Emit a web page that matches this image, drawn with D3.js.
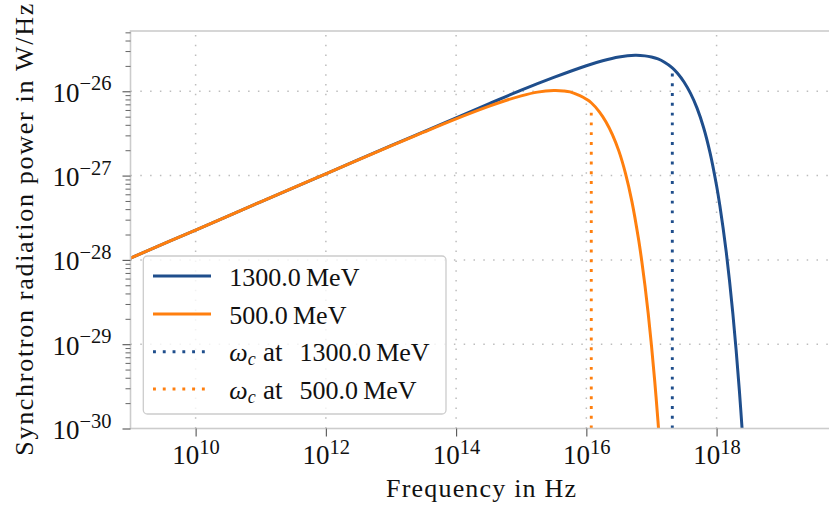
<!DOCTYPE html>
<html><head><meta charset="utf-8">
<script src="https://cdn.jsdelivr.net/npm/d3@7"></script>
<style>
body{margin:0;background:#fff}
svg{display:block}
text{font-family:"Liberation Serif","Times New Roman",serif;fill:#111}
</style>
</head><body>
<svg id="chart" width="829" height="508"></svg>
<script>
// ---- data (frequency in Hz, power in W/Hz) ----
const seriesLabels = ["1300.0\u2009MeV", "500.0\u2009MeV"];
const seriesColors = ["#1f4e8c", "#ff7f0e"];

const freqHigh = [1e9, 1e10, 1e11, 1e12, 1e13, 1e14, 3.162e14, 1e15, 3.162e15, 1e16, 1.778e16, 3.162e16,
  5.623e16, 7.943e16, 1e17, 1.259e17, 1.585e17, 2.089e17, 2.512e17, 3.162e17, 3.981e17, 5.012e17,
  6.310e17, 7.943e17, 1e18, 1.122e18, 1.259e18, 1.413e18, 1.585e18, 1.778e18, 1.995e18, 2.239e18, 2.512e18];
const powerHigh = [1.05e-28, 2.26e-28, 4.89e-28, 1.05e-27, 2.26e-27, 4.85e-27, 7.08e-27, 1.03e-26, 1.46e-26,
  2.01e-26, 2.30e-26, 2.55e-26, 2.67e-26, 2.63e-26, 2.55e-26, 2.42e-26, 2.21e-26, 1.90e-26, 1.64e-26,
  1.29e-26, 9.44e-27, 6.31e-27, 3.72e-27, 1.86e-27, 7.57e-28, 4.41e-28, 2.39e-28, 1.21e-28, 5.52e-29,
  2.30e-29, 8.55e-30, 2.81e-30, 8.02e-31];

const freqLow = [1e9, 1e10, 1e11, 1e12, 1e13, 3.162e13, 1e14, 3.162e14, 5.623e14, 1e15, 1.778e15, 3.162e15,
  4.467e15, 5.623e15, 7.943e15, 1e16, 1.189e16, 1.585e16, 1.995e16, 2.512e16, 3.162e16, 3.981e16,
  5.012e16, 6.310e16, 7.079e16, 7.943e16, 8.913e16, 1e17, 1.122e17, 1.259e17, 1.318e17];
const powerLow = [1.05e-28, 2.26e-28, 4.89e-28, 1.05e-27, 2.25e-27, 3.27e-27, 4.71e-27, 6.62e-27, 7.73e-27,
  8.83e-27, 9.77e-27, 1.02e-26, 1.01e-26, 9.84e-27, 8.87e-27, 8.05e-27, 7.31e-27, 5.71e-27, 4.35e-27,
  3.06e-27, 1.95e-27, 1.07e-27, 4.91e-28, 1.79e-28, 9.82e-29, 4.99e-29, 2.31e-29, 9.70e-30, 3.66e-30,
  1.22e-30, 7.53e-31];

const criticalEnergy = ["1300.0\u2009MeV", "500.0\u2009MeV"];
const criticalFreq = [2.09e17, 1.19e16];
const criticalPower = [1.88e-26, 6.64e-27];

const xTickValues = [1e10, 1e12, 1e14, 1e16, 1e18];
const xTickExps = ["10", "12", "14", "16", "18"];
const yTickValues = [1e-26, 1e-27, 1e-28, 1e-29, 1e-30];
const yTickExps = ["\u221226", "\u221227", "\u221228", "\u221229", "\u221230"];

const xLabel = "Frequency in Hz";
const yLabel = "Synchrotron radiation power in W/Hz";

// ---- layout ----
const L = 130.5, R = 831, T = 31, B = 428.5;
const svg = d3.select("#chart");
const x = d3.scaleLog().domain([1e9, 5.715e19]).range([L, R]);
const y = d3.scaleLog().domain([1e-30, 5.188e-26]).range([B, T]);

svg.append("defs").append("clipPath").attr("id", "clip")
  .append("rect").attr("x", L).attr("y", T).attr("width", R - L).attr("height", B - T);

// grid
const grid = svg.append("g").attr("stroke", "#bdbdbd").attr("stroke-width", 1.5).attr("stroke-dasharray", "1.5 8.3");
grid.selectAll("line.v").data(xTickValues).join("line").attr("class", "v")
  .attr("x1", d => x(d)).attr("x2", d => x(d)).attr("y1", B).attr("y2", T);
grid.selectAll("line.h").data(yTickValues.filter(d => d > 1e-30)).join("line").attr("class", "h")
  .attr("x1", L).attr("x2", R).attr("y1", d => y(d)).attr("y2", d => y(d));

// curves
const line = d3.line().x(d => x(d[0])).y(d => y(d[1])).curve(d3.curveCatmullRom.alpha(0.5));
const plot = svg.append("g").attr("clip-path", "url(#clip)");
const series = [d3.zip(freqHigh, powerHigh), d3.zip(freqLow, powerLow)];
series.forEach((s, i) => {
  plot.append("path").datum(s).attr("d", line).attr("fill", "none")
    .attr("stroke", seriesColors[i]).attr("stroke-width", 3);
});
// critical-frequency dotted lines
criticalFreq.forEach((f, i) => {
  plot.append("line").attr("x1", x(f)).attr("x2", x(f)).attr("y1", y(1e-30)).attr("y2", y(criticalPower[i]))
    .attr("stroke", seriesColors[i]).attr("stroke-width", 2.9).attr("stroke-dasharray", "2.9 6.88");
});

// spines
const sp = svg.append("g").attr("stroke", "#cccccc").attr("stroke-width", 1.6).attr("fill", "none");
sp.append("rect").attr("x", L).attr("y", T).attr("width", R - L).attr("height", B - T);

// y axis
const yAxis = d3.axisLeft(y).tickValues(yTickValues).tickSize(8).tickFormat(() => "");
const gy = svg.append("g").attr("transform", `translate(${L},0)`).call(yAxis);
gy.select(".domain").remove();
gy.selectAll(".tick line").attr("stroke", "#555").attr("stroke-width", 1.1);
gy.selectAll(".tick text").each(function (d, i) {
  const t = d3.select(this);
  t.text(null).attr("dy", null).attr("x", -19).attr("y", 10).attr("font-size", 27)
    .attr("text-anchor", "end").attr("fill", "#111");
  t.append("tspan").text("10");
  t.append("tspan").attr("dy", -11.5).attr("font-size", 20.5).text(yTickExps[i]);
});
const yMinor = [];
for (let e = -30; e <= -26; e++) for (let k = 2; k <= 9; k++) {
  const v = k * Math.pow(10, e);
  if (v < 5.188e-26) yMinor.push(v);
}
const gym = svg.append("g").attr("transform", `translate(${L},0)`)
  .call(d3.axisLeft(y).tickValues(yMinor).tickSize(5).tickFormat(() => ""));
gym.select(".domain").remove();
gym.selectAll(".tick line").attr("stroke", "#555").attr("stroke-width", 0.9);

// x axis
const gx = svg.append("g").attr("transform", `translate(0,${B})`)
  .call(d3.axisBottom(x).tickValues(xTickValues).tickSize(8).tickFormat(() => ""));
gx.select(".domain").remove();
gx.selectAll(".tick line").attr("stroke", "#555").attr("stroke-width", 1.1);
gx.selectAll(".tick text").each(function (d, i) {
  const t = d3.select(this);
  t.text(null).attr("dy", null).attr("y", 35.5).attr("font-size", 27)
    .attr("text-anchor", "middle").attr("fill", "#111");
  t.append("tspan").text("10");
  t.append("tspan").attr("dy", -10.5).attr("font-size", 20.5).text(xTickExps[i]);
});

// axis labels
svg.append("text").attr("x", 481).attr("y", 497).attr("text-anchor", "middle")
  .attr("font-size", 26).attr("textLength", 190).attr("lengthAdjust", "spacing").text(xLabel);
svg.append("text").attr("transform", `translate(33,${(T + B) / 2}) rotate(-90)`).attr("text-anchor", "middle")
  .attr("font-size", 26).attr("textLength", 452).attr("lengthAdjust", "spacing").text(yLabel);

// legend
const lg = svg.append("g");
lg.append("rect").attr("x", 143.3).attr("y", 256).attr("width", 302.7).attr("height", 158).attr("rx", 4)
  .attr("fill", "#fff").attr("fill-opacity", 0.8).attr("stroke", "#cccccc").attr("stroke-width", 1.3);
const rows = [276, 314, 351.7, 389];
const legendItems = [
  { color: seriesColors[0], dotted: false, label: seriesLabels[0] },
  { color: seriesColors[1], dotted: false, label: seriesLabels[1] },
  { color: seriesColors[0], dotted: true, label: criticalEnergy[0] },
  { color: seriesColors[1], dotted: true, label: criticalEnergy[1] }
];
legendItems.forEach((it, i) => {
  const ry = rows[i];
  lg.append("line").attr("x1", 153).attr("x2", 211).attr("y1", ry).attr("y2", ry)
    .attr("stroke", it.color).attr("stroke-width", it.dotted ? 2.9 : 3)
    .attr("stroke-dasharray", it.dotted ? "2.9 6.88" : null);
  if (it.dotted) {
    const t = lg.append("text").attr("x", 229.3).attr("y", ry + 9.7).attr("font-size", 26);
    t.append("tspan").attr("font-style", "italic").text("\u03C9");
    t.append("tspan").attr("font-style", "italic").attr("font-size", 18).attr("dy", 4).text("c");
    t.append("tspan").attr("x", 263).attr("dy", -4).attr("font-size", 27).text("at");
    t.append("tspan").attr("x", 299.5).text(it.label);
  } else {
    lg.append("text").attr("x", 229.3).attr("y", ry + 9.7).attr("font-size", 26).text(it.label);
  }
});
</script>
</body></html>
